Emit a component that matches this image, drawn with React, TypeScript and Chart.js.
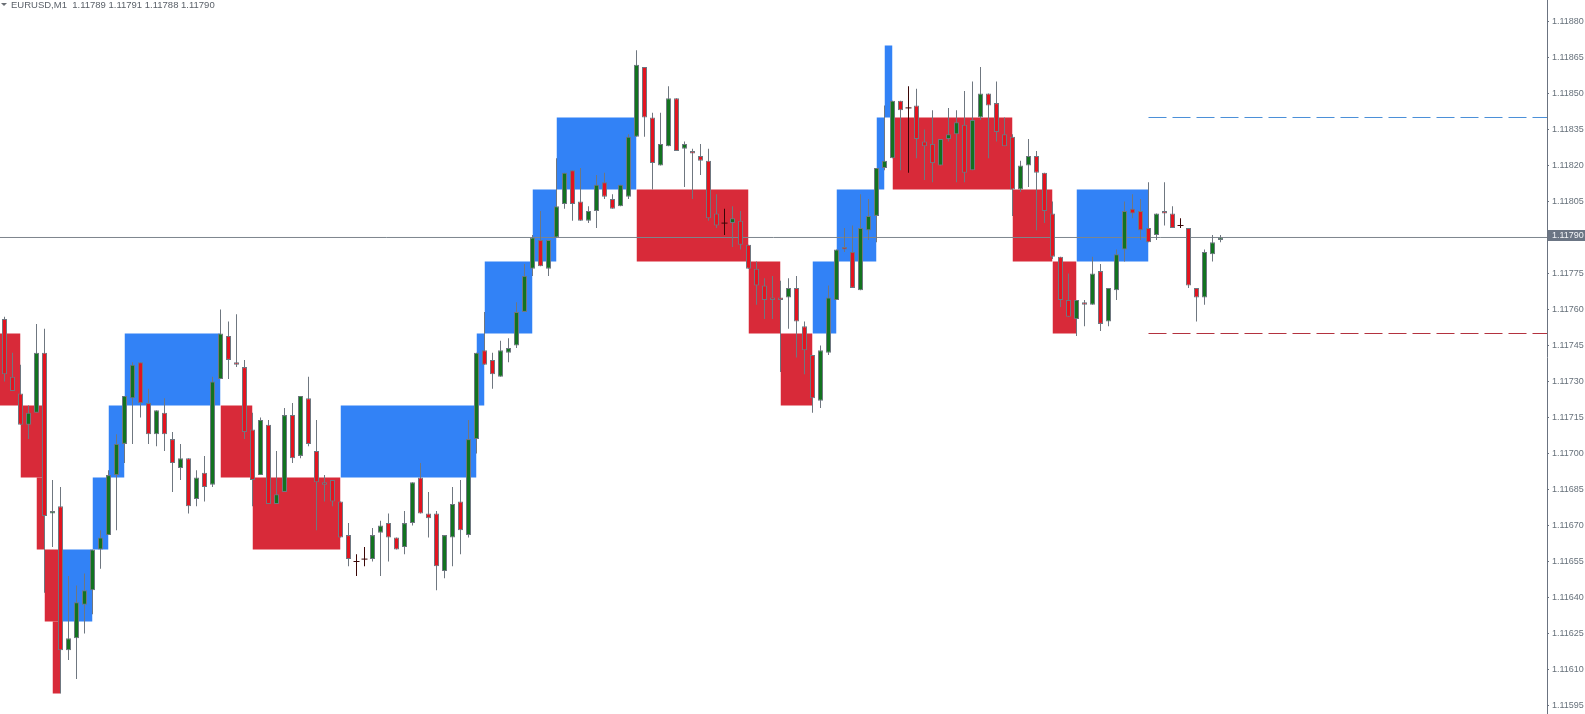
import React, { useEffect, useRef } from 'react';
import { Chart, registerables } from 'chart.js';

Chart.register(...registerables);

// ---- header ----
const symbolTitle = 'EURUSD,M1';
const lastQuote = ['1.11789', '1.11791', '1.11788', '1.11790'];
const currentPrice = 1.1179;

// ---- candles (index 0..152) ----
const opens = [
  1.11756, 1.11732, 1.11725, 1.11712, 1.11717, 1.11742, 1.11675, 1.11678, 1.11618, 1.11623,
  1.11637, 1.11643, 1.11660, 1.11666, 1.11691, 1.11704, 1.11723, 1.11738, 1.11721, 1.11708,
  1.11717, 1.11706, 1.11694, 1.11698, 1.11681, 1.11692, 1.11687, 1.11731, 1.11749, 1.11738,
  1.11736, 1.11710, 1.11691, 1.11712, 1.11679, 1.11684, 1.11716, 1.11699, 1.11723, 1.11701,
  1.11688, 1.11689, 1.11680, 1.11666, 1.11655, 1.11656, 1.11656, 1.11667, 1.11671, 1.11665,
  1.11661, 1.11671, 1.11690, 1.11675, 1.11675, 1.11651, 1.11665, 1.11680, 1.11666, 1.11706,
  1.11743, 1.11739, 1.11732, 1.11742, 1.11745, 1.11759, 1.11777, 1.11789, 1.11777, 1.11790,
  1.11804, 1.11818, 1.11805, 1.11797, 1.11801, 1.11813, 1.11806, 1.11803, 1.11807, 1.11832,
  1.11861, 1.11840, 1.11820, 1.11828, 1.11848, 1.11827, 1.11826, 1.11824, 1.11822, 1.11800,
  1.11796, 1.11796, 1.11797, 1.11787, 1.11777, 1.11770, 1.11765, 1.11765, 1.11765, 1.11769,
  1.11753, 1.11741, 1.11722, 1.11742, 1.11764, 1.11786, 1.11784, 1.11768, 1.11793, 1.11799,
  1.11819, 1.11823, 1.11847, 1.11844, 1.11845, 1.11830, 1.11829, 1.11820, 1.11831, 1.11833,
  1.11837, 1.11818, 1.11840, 1.11850, 1.11846, 1.11833, 1.11832, 1.11810, 1.11820, 1.11824,
  1.11817, 1.11800, 1.11782, 1.11764, 1.11756, 1.11763, 1.11762, 1.11776, 1.11755, 1.11768,
  1.11785, 1.11802, 1.11801, 1.11794, 1.11791, 1.11801, 1.11800, 1.11795, 1.11794, 1.11769,
  1.11765, 1.11783, 1.11789,
];
const highs = [
  1.11757, 1.11742, 1.11737, 1.11720, 1.11754, 1.11752, 1.11689, 1.11686, 1.11649, 1.11645,
  1.11650, 1.11660, 1.11668, 1.11693, 1.11708, 1.11724, 1.11738, 1.11738, 1.11727, 1.11718,
  1.11723, 1.11709, 1.11704, 1.11698, 1.11693, 1.11699, 1.11732, 1.11760, 1.11755, 1.11758,
  1.11739, 1.11717, 1.11715, 1.11714, 1.11701, 1.11719, 1.11721, 1.11724, 1.11732, 1.11714,
  1.11691, 1.11689, 1.11680, 1.11671, 1.11658, 1.11661, 1.11669, 1.11672, 1.11675, 1.11665,
  1.11676, 1.11688, 1.11696, 1.11684, 1.11676, 1.11666, 1.11686, 1.11689, 1.11714, 1.11742,
  1.11759, 1.11742, 1.11747, 1.11748, 1.11763, 1.11779, 1.11791, 1.11801, 1.11789, 1.11823,
  1.11817, 1.11818, 1.11819, 1.11803, 1.11816, 1.11817, 1.11808, 1.11812, 1.11833, 1.11868,
  1.11861, 1.11842, 1.11842, 1.11853, 1.11848, 1.11830, 1.11827, 1.11829, 1.11827, 1.11808,
  1.11802, 1.11803, 1.11801, 1.11787, 1.11780, 1.11773, 1.11774, 1.11772, 1.11773, 1.11774,
  1.11755, 1.11741, 1.11745, 1.11770, 1.11785, 1.11794, 1.11795, 1.11808, 1.11806, 1.11819,
  1.11845, 1.11847, 1.11847, 1.11853, 1.11852, 1.11835, 1.11843, 1.11831, 1.11844, 1.11843,
  1.11851, 1.11855, 1.11861, 1.11850, 1.11855, 1.11840, 1.11833, 1.11822, 1.11831, 1.11826,
  1.11817, 1.11805, 1.11782, 1.11775, 1.11764, 1.11764, 1.11782, 1.11779, 1.11769, 1.11785,
  1.11805, 1.11808, 1.11806, 1.11813, 1.11800, 1.11813, 1.11803, 1.11798, 1.11794, 1.11769,
  1.11785, 1.11791, 1.11791,
];
const lows = [
  1.11730, 1.11726, 1.11712, 1.11706, 1.11717, 1.11642, 1.11661, 1.11600, 1.11614, 1.11606,
  1.11625, 1.11633, 1.11652, 1.11666, 1.11668, 1.11696, 1.11704, 1.11715, 1.11704, 1.11703,
  1.11701, 1.11684, 1.11689, 1.11675, 1.11678, 1.11680, 1.11686, 1.11731, 1.11731, 1.11736,
  1.11706, 1.11678, 1.11691, 1.11679, 1.11679, 1.11684, 1.11696, 1.11698, 1.11703, 1.11668,
  1.11680, 1.11678, 1.11665, 1.11653, 1.11649, 1.11653, 1.11655, 1.11649, 1.11655, 1.11660,
  1.11658, 1.11670, 1.11675, 1.11665, 1.11643, 1.11648, 1.11653, 1.11658, 1.11665, 1.11700,
  1.11737, 1.11727, 1.11732, 1.11738, 1.11744, 1.11759, 1.11774, 1.11778, 1.11774, 1.11790,
  1.11802, 1.11797, 1.11797, 1.11796, 1.11794, 1.11806, 1.11802, 1.11803, 1.11806, 1.11832,
  1.11832, 1.11810, 1.11820, 1.11828, 1.11826, 1.11811, 1.11806, 1.11816, 1.11797, 1.11794,
  1.11791, 1.11786, 1.11785, 1.11777, 1.11762, 1.11756, 1.11756, 1.11734, 1.11752, 1.11740,
  1.11733, 1.11717, 1.11719, 1.11741, 1.11764, 1.11784, 1.11769, 1.11768, 1.11789, 1.11788,
  1.11818, 1.11823, 1.11818, 1.11817, 1.11823, 1.11814, 1.11813, 1.11820, 1.11830, 1.11813,
  1.11813, 1.11818, 1.11839, 1.11823, 1.11830, 1.11828, 1.11799, 1.11809, 1.11811, 1.11793,
  1.11796, 1.11781, 1.11761, 1.11757, 1.11749, 1.11753, 1.11762, 1.11751, 1.11753, 1.11764,
  1.11780, 1.11798, 1.11789, 1.11788, 1.11789, 1.11795, 1.11794, 1.11794, 1.11769, 1.11755,
  1.11762, 1.11780, 1.11788,
];
const closes = [
  1.11733, 1.11726, 1.11712, 1.11717, 1.11742, 1.11674, 1.11676, 1.11618, 1.11623, 1.11638,
  1.11643, 1.11660, 1.11665, 1.11691, 1.11704, 1.11724, 1.11737, 1.11721, 1.11708, 1.11718,
  1.11708, 1.11696, 1.11698, 1.11678, 1.11690, 1.11686, 1.11730, 1.11750, 1.11739, 1.11737,
  1.11709, 1.11689, 1.11714, 1.11679, 1.11683, 1.11716, 1.11698, 1.11724, 1.11704, 1.11688,
  1.11687, 1.11680, 1.11665, 1.11656, 1.11655, 1.11656, 1.11666, 1.11670, 1.11665, 1.11660,
  1.11671, 1.11688, 1.11675, 1.11673, 1.11653, 1.11666, 1.11679, 1.11668, 1.11706, 1.11742,
  1.11737, 1.11733, 1.11743, 1.11744, 1.11759, 1.11774, 1.11790, 1.11778, 1.11789, 1.11803,
  1.11817, 1.11804, 1.11797, 1.11801, 1.11812, 1.11807, 1.11802, 1.11812, 1.11832, 1.11862,
  1.11840, 1.11821, 1.11829, 1.11848, 1.11826, 1.11829, 1.11825, 1.11822, 1.11798, 1.11795,
  1.11796, 1.11798, 1.11787, 1.11777, 1.11770, 1.11764, 1.11764, 1.11764, 1.11769, 1.11755,
  1.11743, 1.11723, 1.11743, 1.11765, 1.11785, 1.11785, 1.11769, 1.11794, 1.11799, 1.11819,
  1.11822, 1.11847, 1.11843, 1.11844, 1.11831, 1.11828, 1.11821, 1.11831, 1.11833, 1.11838,
  1.11817, 1.11839, 1.11850, 1.11845, 1.11834, 1.11828, 1.11810, 1.11820, 1.11824, 1.11817,
  1.11801, 1.11782, 1.11764, 1.11757, 1.11764, 1.11762, 1.11775, 1.11754, 1.11769, 1.11783,
  1.11801, 1.11800, 1.11793, 1.11788, 1.11800, 1.11800, 1.11794, 1.11795, 1.11770, 1.11765,
  1.11784, 1.11788, 1.11790,
];

// ---- renko-style boxes (candle index span + price band) ----
const boxFrom = [-2, 2, 4, 5, 6, 7, 11, 13, 15, 27, 31, 42, 59, 60, 66, 69, 79, 93, 97, 101, 104, 109, 110, 111, 126, 131, 134];
const boxTo = [2, 5, 5, 7, 7, 11, 13, 15, 27, 31, 42, 59, 60, 66, 69, 79, 93, 97, 101, 104, 109, 110, 111, 126, 131, 134, 143];
const boxBottom = [
  1.1172, 1.1169, 1.1166, 1.1163, 1.116, 1.1163, 1.1166, 1.1169, 1.1172, 1.1169, 1.1166, 1.1169, 1.1172, 1.1175,
  1.1178, 1.1181, 1.1178, 1.1175, 1.1172, 1.1175, 1.1178, 1.1181, 1.1184, 1.1181, 1.1178, 1.1175, 1.1178,
];
const boxTop = [
  1.1175, 1.1172, 1.1169, 1.1166, 1.1163, 1.1166, 1.1169, 1.1172, 1.1175, 1.1172, 1.1169, 1.1172, 1.1175, 1.1178,
  1.1181, 1.1184, 1.1181, 1.1178, 1.1175, 1.1178, 1.1181, 1.1184, 1.1187, 1.1184, 1.1181, 1.1178, 1.1181,
];
const boxUp = [0, 0, 0, 0, 0, 1, 1, 1, 1, 0, 0, 1, 1, 1, 1, 1, 0, 0, 0, 1, 1, 1, 1, 0, 0, 0, 1];

// ---- levels ----
const upperLevel = 1.1184;
const lowerLevel = 1.1175;
const levelsFrom = 143;

// ---- axis ----
const yTickLabels = [
  '1.11595', '1.11610', '1.11625', '1.11640', '1.11655', '1.11670', '1.11685', '1.11700', '1.11715', '1.11730',
  '1.11745', '1.11760', '1.11775', '1.11790', '1.11805', '1.11820', '1.11835', '1.11850', '1.11865', '1.11880',
];

const Y_MAX = 1.1188895833;
const Y_MIN = 1.1159145833;
const X_MIN = -0.5625;
const X_MAX = 192.8125;

const BOX_UP = '#3282f6';
const BOX_DOWN = '#d82a39';
const BULL = '#12731f';
const BEAR = '#e3141f';
const EDGE = '#6f7780';
const DOJI = '#3a0606';
const AXIS = '#6b7380';
const FONT = '"Liberation Sans", Arial, sans-serif';

const isDoji = (i: number) => opens[i] === closes[i];

const priceLabelPlugin = {
  id: 'priceLabel',
  afterDraw(chart: any) {
    const { ctx, chartArea } = chart;
    const y = chart.scales.y;
    const py = Math.round(y.getPixelForValue(currentPrice));
    ctx.save();
    ctx.fillStyle = '#6b7584';
    ctx.fillRect(chartArea.right + 1, py - 7, chart.width - chartArea.right - 1, 11);
    ctx.fillStyle = '#f2f4f7';
    ctx.font = '9px ' + FONT;
    ctx.textBaseline = 'middle';
    ctx.textAlign = 'left';
    ctx.fillText(currentPrice.toFixed(5), chartArea.right + 5, py - 1.5);
    ctx.restore();
  },
};

export default function App() {
  const ref = useRef<HTMLCanvasElement>(null);

  useEffect(() => {
    document.body.style.margin = '0';
    document.body.style.overflow = 'hidden';
    const canvas = ref.current;
    if (!canvas) return;

    const boxDatasets = boxFrom.map((from, k) => ({
      type: 'line',
      data: [
        { x: from, y: boxTop[k] },
        { x: boxTo[k], y: boxTop[k] },
      ],
      fill: { value: boxBottom[k] },
      backgroundColor: boxUp[k] ? BOX_UP : BOX_DOWN,
      borderColor: 'rgba(0,0,0,0)',
      borderWidth: 0,
      pointRadius: 0,
      order: 10,
    }));

    const wickData = opens.map((_, i) => ({ x: i, y: [lows[i], highs[i]] }));
    const bodyData = opens
      .map((o, i) => ({ x: i, y: [o, closes[i]] }))
      .filter((d) => !isDoji(d.x));
    const dojiData = opens.map((o, i) => ({ x: i, y: o })).filter((d) => isDoji(d.x));

    const chart = new Chart(canvas, {
      type: 'bar',
      data: {
        datasets: [
          ...boxDatasets,
          {
            type: 'line',
            data: [
              { x: X_MIN, y: currentPrice },
              { x: X_MAX, y: currentPrice },
            ],
            borderColor: '#7d858d',
            borderWidth: 1,
            pointRadius: 0,
            fill: false,
            order: 5,
          },
          {
            type: 'line',
            data: [
              { x: levelsFrom, y: upperLevel },
              { x: X_MAX, y: upperLevel },
            ],
            borderColor: '#4a8fd8',
            borderWidth: 1,
            borderDash: [18, 6],
            pointRadius: 0,
            fill: false,
            order: 5,
          },
          {
            type: 'line',
            data: [
              { x: levelsFrom, y: lowerLevel },
              { x: X_MAX, y: lowerLevel },
            ],
            borderColor: '#b3323f',
            borderWidth: 1,
            borderDash: [18, 6],
            pointRadius: 0,
            fill: false,
            order: 5,
          },
          {
            type: 'bar',
            data: wickData,
            barThickness: 1,
            grouped: false,
            inflateAmount: 0,
            borderWidth: 0,
            backgroundColor: (c: any) => (c.raw && isDoji(c.raw.x) ? DOJI : EDGE),
            order: 2,
          },
          {
            type: 'bar',
            data: bodyData,
            barThickness: 5,
            grouped: false,
            inflateAmount: 0,
            borderWidth: 1,
            borderSkipped: false,
            borderColor: EDGE,
            backgroundColor: (c: any) => (c.raw && closes[c.raw.x] >= opens[c.raw.x] ? BULL : BEAR),
            order: 1,
          },
          {
            type: 'line',
            data: dojiData,
            showLine: false,
            pointStyle: 'line',
            pointRadius: 3,
            pointHoverRadius: 3,
            pointBorderWidth: 1,
            pointBorderColor: DOJI,
            pointBackgroundColor: DOJI,
            order: 0,
          },
        ] as any,
      },
      options: {
        responsive: false,
        animation: false,
        events: [],
        layout: { padding: 0, autoPadding: false },
        plugins: {
          legend: { display: false },
          tooltip: { enabled: false },
          title: { display: false },
        },
        scales: {
          x: {
            type: 'linear',
            min: X_MIN,
            max: X_MAX,
            display: false,
            offset: false,
            grid: { display: false },
          },
          y: {
            type: 'linear',
            position: 'right',
            min: Y_MIN,
            max: Y_MAX,
            beginAtZero: false,
            stacked: false,
            afterFit: (s: any) => {
              s.width = 38;
              s.paddingTop = 0;
              s.paddingBottom = 0;
            },
            afterBuildTicks: (s: any) => {
              s.ticks = yTickLabels.map((l) => ({ value: parseFloat(l) }));
            },
            ticks: {
              callback: (v: any) => Number(v).toFixed(5),
              color: '#66707a',
              font: { family: FONT, size: 9 },
              padding: 3,
              autoSkip: false,
              maxRotation: 0,
            },
            grid: { drawOnChartArea: false, drawTicks: true, tickLength: 2, color: AXIS },
            border: { display: true, color: AXIS, width: 1 },
          },
        },
      } as any,
      plugins: [priceLabelPlugin],
    } as any);

    return () => chart.destroy();
  }, []);

  return (
    <div style={{ position: 'absolute', left: 0, top: 0, width: 1585, height: 714, background: '#ffffff', overflow: 'hidden' }}>
      <canvas ref={ref} width={1585} height={714} style={{ display: 'block', width: 1585, height: 714 }} />
      <span
        style={{
          position: 'absolute',
          left: 1,
          top: 3,
          width: 0,
          height: 0,
          borderLeft: '3px solid transparent',
          borderRight: '3px solid transparent',
          borderTop: '3px solid #6a6f75',
        }}
      />
      <div
        style={{
          position: 'absolute',
          left: 11,
          top: 0,
          font: '9.5px ' + FONT,
          lineHeight: '10px',
          color: '#5b6169',
          whiteSpace: 'pre',
        }}
      >
        {symbolTitle + '  ' + lastQuote.join(' ')}
      </div>
    </div>
  );
}
